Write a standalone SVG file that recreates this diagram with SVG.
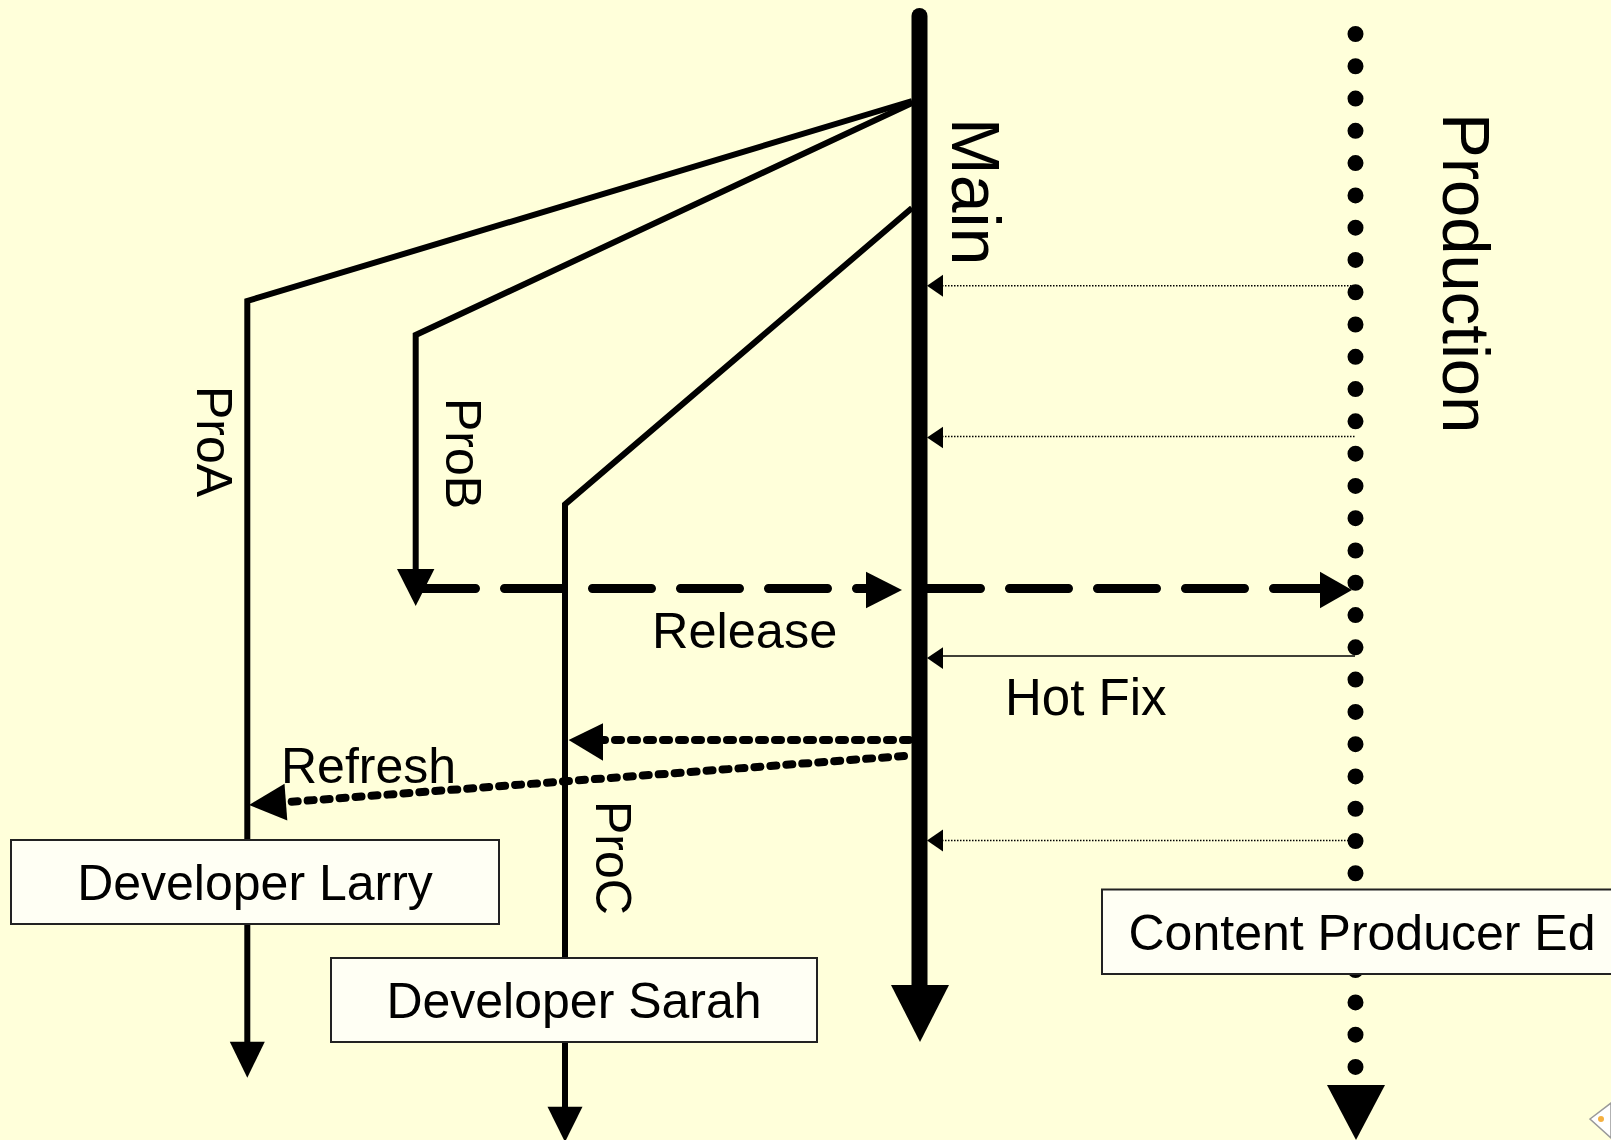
<svg xmlns="http://www.w3.org/2000/svg" width="1611" height="1140" viewBox="0 0 1611 1140">
<style>
text{font-family:"Liberation Sans",Arial,sans-serif;fill:#000}
.br{fill:none;stroke:#000;stroke-width:6;stroke-linejoin:miter}
.ah{fill:#000;stroke:none}
.thin{fill:none;stroke:#000;stroke-width:1.5}
.dot{stroke-dasharray:1.5 1.5}
.rel{fill:none;stroke:#000;stroke-width:9;stroke-linecap:round;stroke-dasharray:59 29}
.ref{fill:none;stroke:#000;stroke-width:8;stroke-linecap:round;stroke-dasharray:6 10}
.box{fill:#FFFFF4;stroke:#222;stroke-width:2}
</style>
<rect width="1611" height="1140" fill="#FFFFDA"/>
<g id="connectors">
  <line x1="1355.5" y1="34" x2="1355.5" y2="1068" stroke="#000" stroke-width="16" stroke-linecap="round" stroke-dasharray="0 32.28"/>
  <polygon class="ah" points="1327,1085 1385,1085 1356,1140"/>
  <line x1="919.5" y1="16" x2="919.5" y2="990" stroke="#000" stroke-width="16" stroke-linecap="round"/>
  <polygon class="ah" points="891,985 949,985 920,1042"/>
  <path class="br" d="M912,101 L247.3,301 L247.3,1045"/>
  <polygon class="ah" points="229.8,1041.7 264.8,1041.7 247.3,1077.7"/>
  <path class="br" d="M912,103 L415.7,335 L415.7,572"/>
  <polygon class="ah" points="397,569 434.4,569 415.7,606"/>
  <path class="br" d="M912,208 L565,504.5 L565,1110"/>
  <polygon class="ah" points="547.5,1106.7 582.5,1106.7 565,1142"/>
  <line class="thin dot" x1="942" y1="285.7" x2="1355" y2="285.7"/>
  <polygon class="ah" points="927,285.7 943,274.7 943,296.7"/>
  <line class="thin dot" x1="942" y1="436.5" x2="1355" y2="436.5"/>
  <polygon class="ah" points="927,437.5 943,426.7 943,448.3"/>
  <line class="thin dot" x1="942" y1="840.4" x2="1355" y2="840.4"/>
  <polygon class="ah" points="927,840.4 943,829.4 943,851.4"/>
  <line class="thin" x1="942" y1="656" x2="1355" y2="656"/>
  <polygon class="ah" points="927,658 943,647.3 943,669"/>
  <line class="rel" x1="416.5" y1="588.5" x2="866" y2="588.5"/>
  <polygon class="ah" points="866,571.7 902,590 866,608.3"/>
  <line class="rel" x1="921.5" y1="588.5" x2="1320" y2="588.5"/>
  <polygon class="ah" points="1320,571.7 1352,590 1320,608.3"/>
  <line class="ref" x1="909" y1="740" x2="603" y2="740"/>
  <polygon class="ah" points="568.6,740 603,723.3 603,760.7"/>
  <line class="ref" x1="904" y1="756" x2="286" y2="802.2"/>
  <polygon class="ah" points="249,805 287.3,820.6 284.5,783.8"/>
</g>
<g id="label-main"><text transform="translate(952,118) rotate(90)" font-size="68">Main</text></g>
<g id="label-production"><text transform="translate(1443,113) rotate(90)" font-size="67">Production</text></g>
<g id="label-proa"><text transform="translate(197,386) rotate(90)" font-size="50">ProA</text></g>
<g id="label-prob"><text transform="translate(446,398) rotate(90)" font-size="50">ProB</text></g>
<g id="label-proc"><text transform="translate(596,801) rotate(90)" font-size="50">ProC</text></g>
<g id="label-release"><text x="652" y="648" font-size="50.5">Release</text></g>
<g id="label-hotfix"><text x="1005" y="715" font-size="51">Hot Fix</text></g>
<g id="label-refresh"><text x="281" y="783" font-size="50">Refresh</text></g>
<g id="node-larry">
  <rect class="box" x="11" y="840" width="488" height="84"/>
  <text x="255" y="900" font-size="50" text-anchor="middle">Developer Larry</text>
</g>
<g id="node-sarah">
  <rect class="box" x="331" y="958" width="486" height="84"/>
  <text x="574" y="1018" font-size="50" text-anchor="middle">Developer Sarah</text>
</g>
<g id="node-ed">
  <rect class="box" x="1102" y="889.5" width="530" height="84.5"/>
  <text x="1362" y="950" font-size="50" text-anchor="middle">Content Producer Ed</text>
</g>
<g id="corner-icon">
  <polygon points="1590,1119 1611,1103 1611,1138" fill="#FFFFFF" stroke="#999" stroke-width="1.5"/>
  <circle cx="1601" cy="1119" r="3" fill="#F5B040"/>
</g>
</svg>
